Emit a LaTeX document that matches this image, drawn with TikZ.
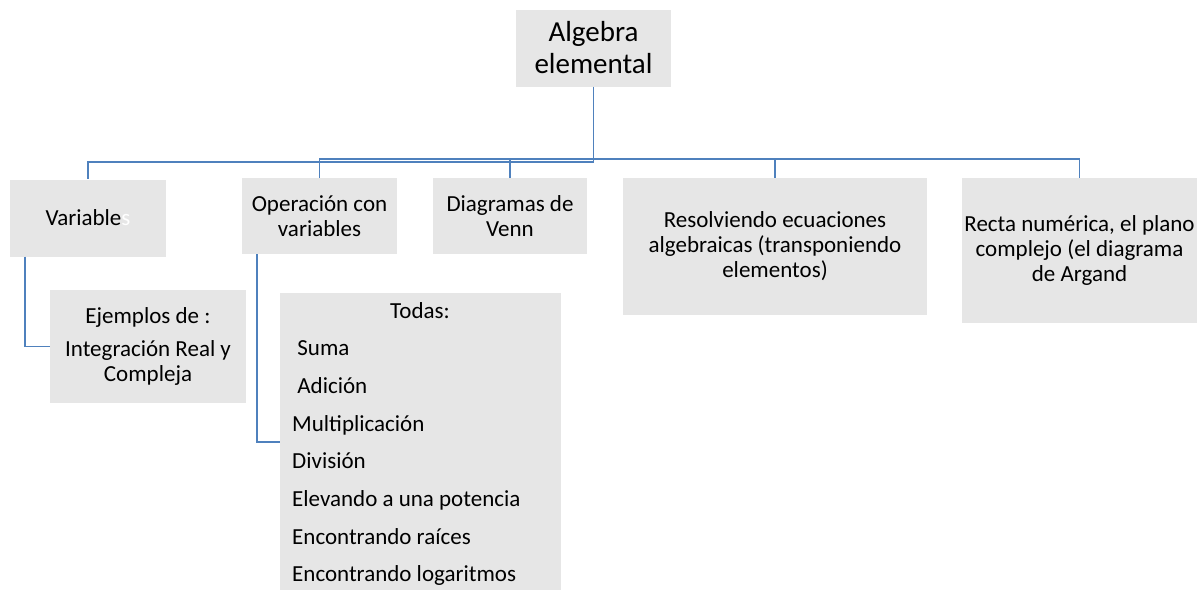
\documentclass[tikz,border=0pt]{standalone}
\usepackage{fontspec}
\setmainfont{Carlito}
\definecolor{boxgray}{RGB}{230,230,230}
\definecolor{linkblue}{RGB}{79,129,189}
\begin{document}
\begin{tikzpicture}[x=1pt,y=-1pt,
  box/.style={fill=boxgray, draw=none, inner sep=0pt, align=center, font=\fontsize{23}{25}\selectfont},
  link/.style={draw=linkblue, line width=1.6pt},
  item/.style={anchor=base west, inner sep=0pt, font=\fontsize{23}{25}\selectfont}]
\useasboundingbox (0,0) rectangle (1201,590);
% boxes
\node[box, minimum width=155, minimum height=77, font=\fontsize{29}{32}\selectfont] (alg) at (593.5,48) {Algebra\\elemental};
\node[box, minimum width=156, minimum height=77] (var) at (88,218) {Variable\textcolor{white}{s}};
\node[box, minimum width=155, minimum height=76] (ope) at (319.5,216) {Operación con\\variables};
\node[box, minimum width=154, minimum height=76] (dia) at (510,216) {Diagramas de\\Venn};
\node[box, minimum width=304, minimum height=137] (res) at (775,246.5) {Resolviendo ecuaciones\\algebraicas (transponiendo\\elementos)};
\node[box, minimum width=235, minimum height=145] (rec) at (1079.5,250.5) {Recta numérica, el plano\\complejo (el diagrama\\de Argand};
\node[box, minimum width=196, minimum height=113] (eje) at (148,346.5) {Ejemplos de :\\[8pt]Integración Real y\\Compleja};
\node[box, minimum width=281, minimum height=297, anchor=north west] (todas) at (280,293) {};
% list inside Todas
\node[item, anchor=base] (t0) at (420,318) {Todas:};
\node[item] (t1) at (292,355.7) {\ Suma};
\node[item] (t2) at (292,393.4) {\ Adición};
\node[item] (t3) at (292,431.1) {Multiplicación};
\node[item] (t4) at (292,468.8) {División};
\node[item] (t5) at (292,506.5) {Elevando a una potencia};
\node[item] (t6) at (292,544.2) {Encontrando raíces};
\node[item] (t7) at (292,581.9) {Encontrando logaritmos};
% connectors
\coordinate (bus) at (593.5,159);
\coordinate (varleg) at (25,0);
\coordinate (opeleg) at (257,0);
\draw[link] (alg.south) -- ++(0,75) -| (var.north);
\draw[link] (ope.north) -- (ope.north |- bus) -- (rec.north |- bus) -- (rec.north);
\draw[link] (dia.north) -- (dia.north |- bus);
\draw[link] (res.north) -- (res.north |- bus);
\draw[link] (var.south -| varleg) |- (eje.west);
\draw[link] (ope.south -| opeleg) |- (todas.west);
\end{tikzpicture}
\end{document}
